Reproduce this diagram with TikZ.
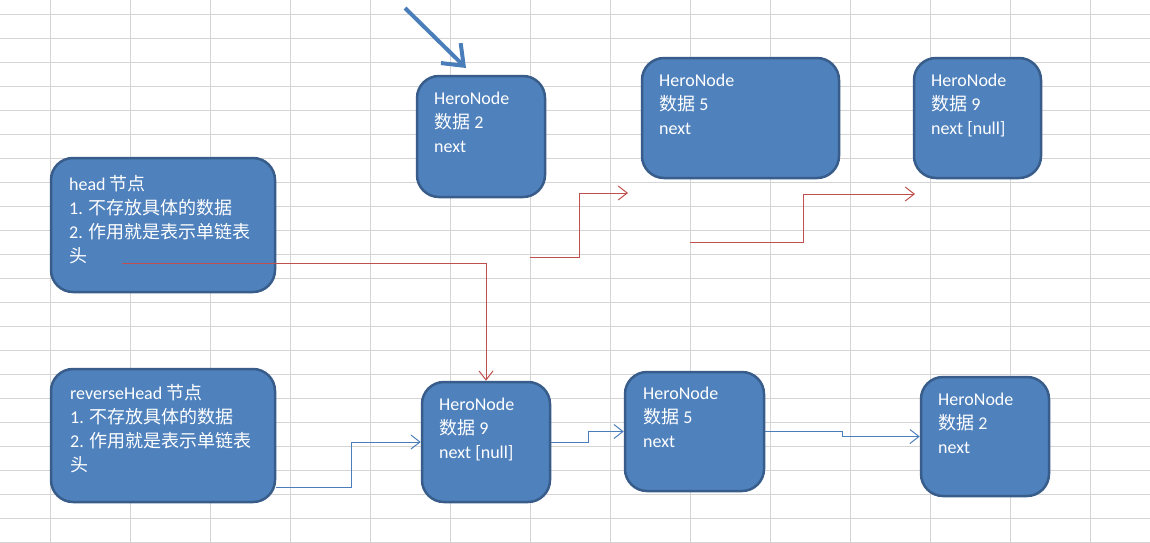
\documentclass[tikz,border=0pt]{standalone}
\usepackage{fontspec}
\setmainfont{Carlito}
\newfontfamily\cjk{Noto Sans CJK SC}
\usetikzlibrary{arrows.meta}
\definecolor{gridc}{HTML}{D4D4D4}
\definecolor{boxfill}{HTML}{4F81BD}
\definecolor{boxdraw}{HTML}{385D8A}
\definecolor{redc}{HTML}{C0504D}
\definecolor{bluec}{HTML}{4A7EBB}
\newcommand{\fl}{\rule{0pt}{16pt}}
\begin{document}
\begin{tikzpicture}[x=1pt,y=-1pt,
  gridline/.style={draw=gridc, line width=1pt},
  hbox/.style={draw=boxdraw, fill=boxfill, line width=2.5pt, rounded corners=22pt, inner sep=0pt},
  htext/.style={anchor=north west, inner sep=0pt, align=left, text=white, font=\fontsize{18}{24}\selectfont},
  redlink/.style={draw=redc, line width=1pt, -{Straight Barb[length=9pt,width=14pt]}},
  bluelink/.style={draw=bluec, line width=1pt, -{Straight Barb[length=9pt,width=14pt]}},
  bigarrow/.style={draw=bluec, line width=4pt, -{Straight Barb[length=18pt,width=28pt]}},
]
\useasboundingbox (0,0) rectangle (1150,542);
\fill[white] (0,0) rectangle (1150,542);
% grid
\foreach \x in {50,130,...,1090} \draw[gridline] (\x,0) -- (\x,542);
\foreach \y in {14,38,...,542} \draw[gridline] (0,\y) -- (1150,\y);

% boxes
\node[hbox, minimum width=224pt, minimum height=134pt] (head) at (163,225) {};
\node[hbox, minimum width=224pt, minimum height=133pt] (rev) at (163,435.5) {};
\node[hbox, minimum width=128pt, minimum height=121pt] (t2) at (481,136.5) {};
\node[hbox, minimum width=197pt, minimum height=120pt] (t5) at (740.5,118) {};
\node[hbox, minimum width=127pt, minimum height=120pt] (t9) at (977.5,118) {};
\node[hbox, minimum width=128pt, minimum height=120pt] (b9) at (486,442) {};
\node[hbox, minimum width=139pt, minimum height=119pt] (b5) at (694.5,431.5) {};
\node[hbox, minimum width=128pt, minimum height=119pt] (b2) at (985,436.5) {};

% texts
\node[htext] (headtxt) at (69,174) {\fl head {\cjk 节点}\\1. {\cjk 不存放具体的数据}\\2. {\cjk 作用就是表示单链表}\\{\cjk 头}};
\node[htext] (revtxt) at (70,383) {\fl reverseHead {\cjk 节点}\\1. {\cjk 不存放具体的数据}\\2. {\cjk 作用就是表示单链表}\\{\cjk 头}};
\node[htext] (t2txt) at (434,88) {\fl HeroNode\\{\cjk 数据} 2\\next};
\node[htext] (t5txt) at (659,70) {\fl HeroNode\\{\cjk 数据} 5\\next};
\node[htext] (t9txt) at (931,70) {\fl HeroNode\\{\cjk 数据} 9\\next [null]};
\node[htext] (b9txt) at (439,394) {\fl HeroNode\\{\cjk 数据} 9\\next [null]};
\node[htext] (b5txt) at (643,383) {\fl HeroNode\\{\cjk 数据} 5\\next};
\node[htext] (b2txt) at (938,389) {\fl HeroNode\\{\cjk 数据} 2\\next};

% connector coordinates
\coordinate (r1s) at (122,263);
\coordinate (r2s) at (530,257);
\coordinate (r2e) at (628,193);
\coordinate (r3s) at (690,242);
\coordinate (r3e) at (915,194);
\coordinate (b4s) at (276,487);
\coordinate (bas) at (405,8);
\coordinate (bae) at (466,68);

% red connectors
\draw[redlink] (r1s) -| (b9.north);
\draw[redlink] (r2s) -- (579,257) |- (r2e);
\draw[redlink] (r3s) -- (803,242) |- (r3e);

% blue connectors
\draw[bluelink] (b4s) -- (351,487) |- (b9.west);
\draw[bluelink] (b9.east) -- (588,442) |- (b5.west);
\draw[bluelink] (b5.east) -| (842,436.5) -- (b2.west);

% big arrow
\draw[bigarrow] (bas) -- (bae);
\end{tikzpicture}
\end{document}
